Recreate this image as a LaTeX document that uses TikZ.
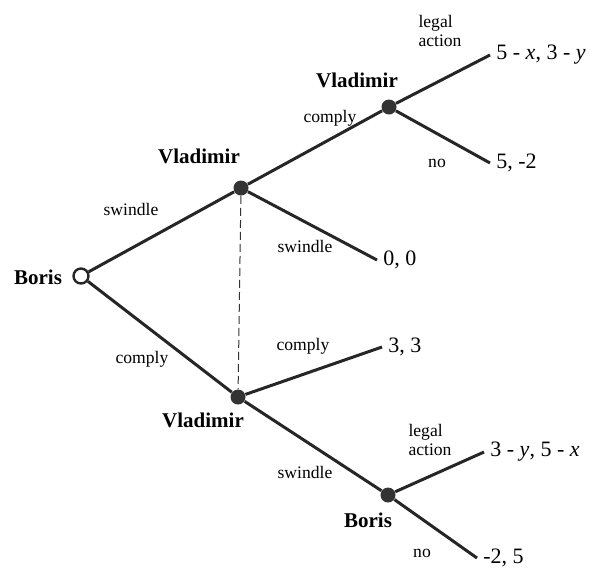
\documentclass[tikz,border=0pt]{standalone}
\usepackage{fontspec}
\setmainfont{Liberation Serif}
\usetikzlibrary{positioning}
\begin{document}
\begin{tikzpicture}[
  x=0.5pt, y=-0.5pt,
  move/.style={line width=1.5pt, draw=black!85},
  infoset/.style={line width=0.5pt, draw=black!80, dash pattern=on 4pt off 2pt},
  dec/.style={circle, fill=black!80, minimum size=7.5pt, inner sep=0pt},
  start/.style={circle, draw=black!85, fill=white, line width=1.2pt, minimum size=7.5pt, inner sep=0pt},
  player/.style={font=\bfseries\fontsize{10.5}{12}\selectfont, inner sep=1pt},
  act/.style={font=\fontsize{8.8}{9.8}\selectfont, align=left, inner sep=1pt},
  pay/.style={font=\fontsize{11}{13}\selectfont, anchor=west, inner sep=3pt}
]
\useasboundingbox (0,0) rectangle (592,569);

% Decision nodes
\node[start] (b0) at (81,276) {};
\node[dec] (v1) at (241,188) {};
\node[dec] (v2) at (238,397) {};
\node[dec] (v3) at (389,107) {};
\node[dec] (b1) at (388,495) {};

% Players
\node[player] (lb0) at (38,277) {Boris};
\node[player] (lv1) at (199,156) {Vladimir};
\node[player] (lv2) at (203,420) {Vladimir};
\node[player] (lv3) at (357,80) {Vladimir};
\node[player] (lb1) at (368,520) {Boris};

% Payoffs
\node[pay] (p1) at (490,55) {5 - \textit{x}, 3 - \textit{y}};
\node[pay] (p2) at (490,163) {5, -2};
\node[pay] (p3) at (377,260) {0, 0};
\node[pay] (p4) at (382,347) {3, 3};
\node[pay] (p5) at (484,452) {3 - \textit{y}, 5 - \textit{x}};
\node[pay] (p6) at (477,558) {-2, 5};

% Moves
\draw[move] (b0) -- (v1);
\draw[move] (b0) -- (v2);
\draw[move] (v1) -- (v3);
\draw[move] (v1) -- (p3.west);
\draw[move] (v3) -- (p1.west);
\draw[move] (v3) -- (p2.west);
\draw[move] (v2) -- (p4.west);
\draw[move] (v2) -- (b1);
\draw[move] (b1) -- (p5.west);
\draw[move] (b1) -- (p6.west);

% Information set
\draw[infoset] (v1) -- (v2);

% Action labels
\node[act] (a1) at (131,209) {swindle};
\node[act] (a2) at (142,359) {comply};
\node[act] (a3) at (330,118) {comply};
\node[act] (a4) at (440,31) {legal\\action};
\node[act] (a5) at (437,163) {no};
\node[act] (a6) at (305,246) {swindle};
\node[act] (a7) at (303,346) {comply};
\node[act] (a8) at (305,472) {swindle};
\node[act] (a9) at (430,440) {legal\\action};
\node[act] (a10) at (422,553) {no};

\end{tikzpicture}
\end{document}
